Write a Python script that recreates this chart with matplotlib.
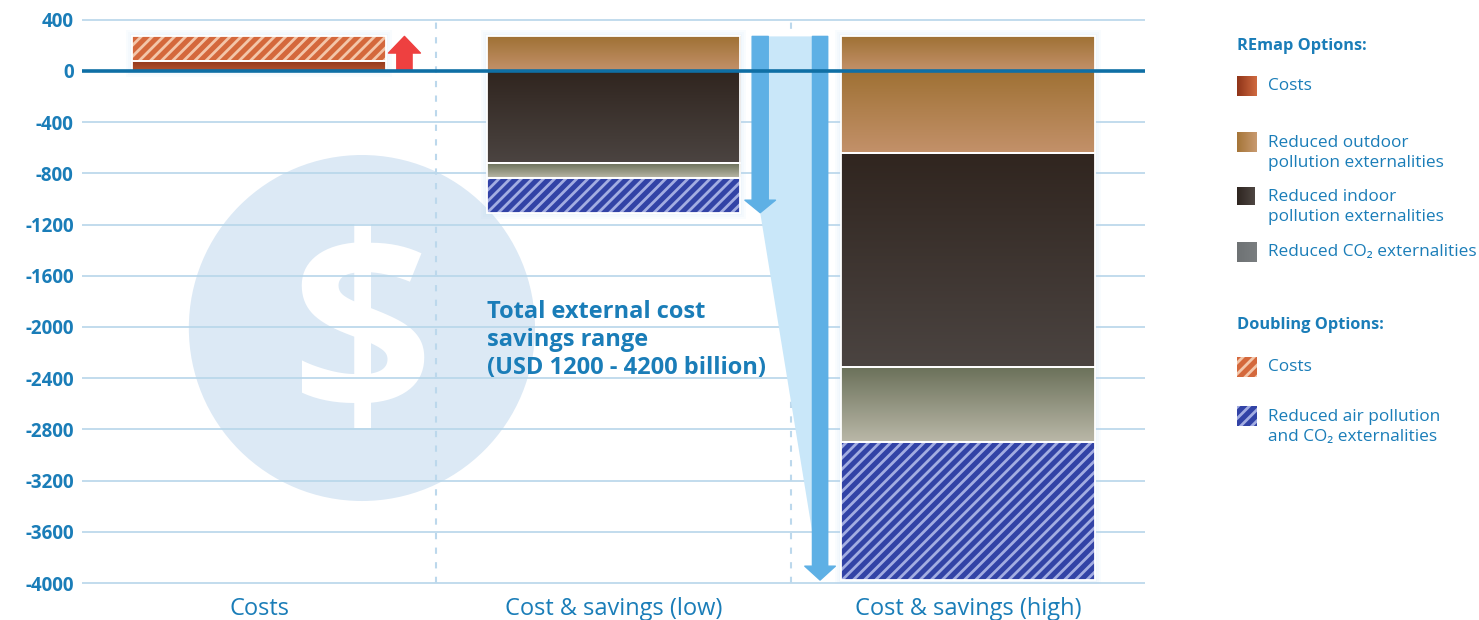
import matplotlib
matplotlib.use('Agg')
import matplotlib.pyplot as plt
import numpy as np
from matplotlib.patches import Rectangle, Ellipse, Polygon
from matplotlib.colors import LinearSegmentedColormap

plt.rcParams['font.family'] = ['Open Sans', 'DejaVu Sans']
plt.rcParams['hatch.linewidth'] = 2.0

# data (USD billion)
categories = ['Costs', 'Cost & savings (low)', 'Cost & savings (high)']
remap_costs = 80
doubling_costs = 190
outdoor = [270, 908]
indoor = [716, 1672]
co2 = [117, 586]
doubling_savings = [274, 1081]
ytick_values = [400, 0, -400, -800, -1200, -1600, -2000, -2400, -2800, -3200, -3600, -4000]

blue_txt = '#1a7db8'
bar_w = 0.715
px_x = 1 / 354.3   # data units per pixel
px_y = 1 / 0.128


def grad_bar(ax, x, top, bottom, c_top, c_bot):
    # split the gradient at the zero line, as in the original
    pieces = [(top, bottom)]
    if top > 0 > bottom:
        pieces = [(top, 0), (0, bottom)]
    for t, b in pieces:
        bar = ax.bar(x, t - b, bottom=b, width=bar_w, color=c_bot, linewidth=0, zorder=3)[0]
        cmap = LinearSegmentedColormap.from_list('g', [c_top, c_bot])
        grad = np.linspace(0, 1, 256).reshape(-1, 1)
        im = ax.imshow(grad, cmap=cmap, aspect='auto', origin='upper', zorder=3.05,
                       extent=[x - bar_w / 2, x + bar_w / 2, b, t], interpolation='bilinear')
        im.set_clip_path(bar)
    ax.bar(x, top - bottom, bottom=bottom, width=bar_w, fill=False, edgecolor='white', linewidth=1.3, zorder=3.2)


def hatch_bar(ax, x, top, bottom, face, stripe):
    ax.bar(x, top - bottom, bottom=bottom, width=bar_w, color=face, edgecolor=stripe, hatch='///', linewidth=0, zorder=3)
    ax.bar(x, top - bottom, bottom=bottom, width=bar_w, fill=False, edgecolor='white', linewidth=1.3, zorder=3.2)


def glow(ax, x, top, bottom):
    for k in [2, 4, 6]:
        ax.bar(x, top - bottom + 2 * k * px_y, bottom=bottom - k * px_y, width=bar_w + 2 * k * px_x,
               color='#b5daf2', alpha=0.07, linewidth=0, zorder=2)


fig = plt.figure(figsize=(14.79, 6.2), dpi=100)
ax = fig.add_axes([82 / 1479, 0.0576, (1145 - 82) / 1479, 0.9126])
ax.set_xlim(-0.5, 2.5)
ax.set_ylim(-4010, 410)

# dollar circle
ax.add_patch(Ellipse((0.29, -2008), 0.977, 2703, facecolor='#dce9f5', edgecolor='none', zorder=0))
ax.text(0.29, -2170, '$', fontsize=180, fontweight='bold', color='white', ha='center', va='center', zorder=0.5)

# grid
for v in ytick_values:
    if v != 0:
        ax.axhline(v, color='#b7d6ea', lw=1.2, zorder=1)
for xs in [0.5, 1.5]:
    ax.plot([xs, xs], [-4000, 400], color='#bcd8ec', lw=1.5, ls=(0, (3, 4)), zorder=1)

# costs bar
total_cost = remap_costs + doubling_costs
glow(ax, 0, total_cost, 0)
grad_bar(ax, 0, remap_costs, 0, '#8f3419', '#b4542e')
hatch_bar(ax, 0, total_cost, remap_costs, '#d4683c', '#f3c6aa')

# savings bars
low_high_x = [1, 2]
bottoms = []
for i, x in enumerate(low_high_x):
    top = total_cost
    b = top - outdoor[i]
    grad_bar(ax, x, top, b, '#9f7134', '#c3916a')
    top = b
    b = top - indoor[i]
    grad_bar(ax, x, top, b, '#30251f', '#4b4441')
    top = b
    b = top - co2[i]
    grad_bar(ax, x, top, b, '#6a7059', '#bab8a8')
    top = b
    b = top - doubling_savings[i]
    hatch_bar(ax, x, top, b, '#3243a6', '#a3ade2')
    bottoms.append(b)
    glow(ax, x, total_cost, b)

# savings range fan
xl, xh = 1.414, 1.583
ax.add_patch(Polygon([(xl, total_cost), (xh, total_cost), (xh, bottoms[1]), (xl, bottoms[0])],
                     closed=True, facecolor='#c9e7f9', edgecolor='none', zorder=1.5))

# arrows
ax.annotate('', xy=(0.41, total_cost), xytext=(0.41, 0),
            arrowprops=dict(arrowstyle='simple,head_length=0.6,head_width=1.15,tail_width=0.55',
                            color='#ee4040', shrinkA=0, shrinkB=0, mutation_scale=20), zorder=4)
ax.annotate('', xy=(xl, bottoms[0]), xytext=(xl, total_cost),
            arrowprops=dict(arrowstyle='simple,head_length=0.45,head_width=1.1,tail_width=0.58',
                            color='#5eb0e5', shrinkA=0, shrinkB=0, mutation_scale=20), zorder=4)
ax.annotate('', xy=(xh, bottoms[1]), xytext=(xh, total_cost),
            arrowprops=dict(arrowstyle='simple,head_length=0.5,head_width=1.1,tail_width=0.55',
                            color='#5eb0e5', shrinkA=0, shrinkB=0, mutation_scale=20), zorder=4)

# zero line
ax.axhline(0, color='#0f6fa5', lw=2.6, zorder=5)

ax.text(0.643, -2100, 'Total external cost\nsavings range\n(USD 1200 - 4200 billion)',
        fontsize=17, fontweight='bold', color=blue_txt, ha='left', va='center', linespacing=1.22, zorder=6)

ax.set_yticks(ytick_values)
ax.set_yticklabels([str(v) for v in ytick_values], fontsize=13.5, fontweight='bold', color=blue_txt)
ax.set_xticks([0, 1, 2])
ax.set_xticklabels(categories, fontsize=17, color=blue_txt)
ax.tick_params(length=0)
ax.tick_params(axis='y', pad=6)
ax.tick_params(axis='x', pad=9)
for s in ax.spines.values():
    s.set_visible(False)


# legend on the right
def fx(px):
    return px / 1479


def fy(py):
    return 1 - py / 620


def leg_patch(py, size=20, face=None, hatch=None, stripe=None, grad=None):
    x0, y0 = 1237, py - size / 2
    if grad is not None:
        lax = fig.add_axes([fx(x0), fy(y0 + size), size / 1479, size / 620])
        cmap = LinearSegmentedColormap.from_list('lg', grad)
        lax.imshow(np.linspace(0, 1, 64).reshape(1, -1), cmap=cmap, aspect='auto')
        lax.axis('off')
    else:
        fig.patches.append(Rectangle((fx(x0), fy(y0 + size)), size / 1479, size / 620,
                                     transform=fig.transFigure, facecolor=face, edgecolor=stripe,
                                     hatch=hatch, linewidth=0))


lfs = 12.4
fig.text(fx(1237), fy(46), 'REmap Options:', fontsize=11.8, fontweight='bold', color=blue_txt, va='center')
leg_patch(86, grad=['#8f3419', '#d06a40'])
fig.text(fx(1268), fy(86), 'Costs', fontsize=lfs, color=blue_txt, va='center')
leg_patch(142, grad=['#a57538', '#c89a70'])
fig.text(fx(1268), fy(153), 'Reduced outdoor\npollution externalities', fontsize=lfs, color=blue_txt, va='center', linespacing=1.3)
leg_patch(196, size=18, grad=['#2e2520', '#4e4642'])
fig.text(fx(1268), fy(207), 'Reduced indoor\npollution externalities', fontsize=lfs, color=blue_txt, va='center', linespacing=1.3)
leg_patch(252, grad=['#6e7274', '#7a7e80'])
fig.text(fx(1268), fy(252), 'Reduced CO\u2082 externalities', fontsize=lfs, color=blue_txt, va='center')

fig.text(fx(1237), fy(325), 'Doubling Options:', fontsize=11.8, fontweight='bold', color=blue_txt, va='center')
leg_patch(367, face='#d4683c', hatch='///', stripe='#f3c6aa')
fig.text(fx(1268), fy(367), 'Costs', fontsize=lfs, color=blue_txt, va='center')
leg_patch(416, face='#3243a6', hatch='///', stripe='#a3ade2')
fig.text(fx(1268), fy(427), 'Reduced air pollution\nand CO\u2082 externalities', fontsize=lfs, color=blue_txt, va='center', linespacing=1.3)

fig.savefig('out.png', dpi=100)
